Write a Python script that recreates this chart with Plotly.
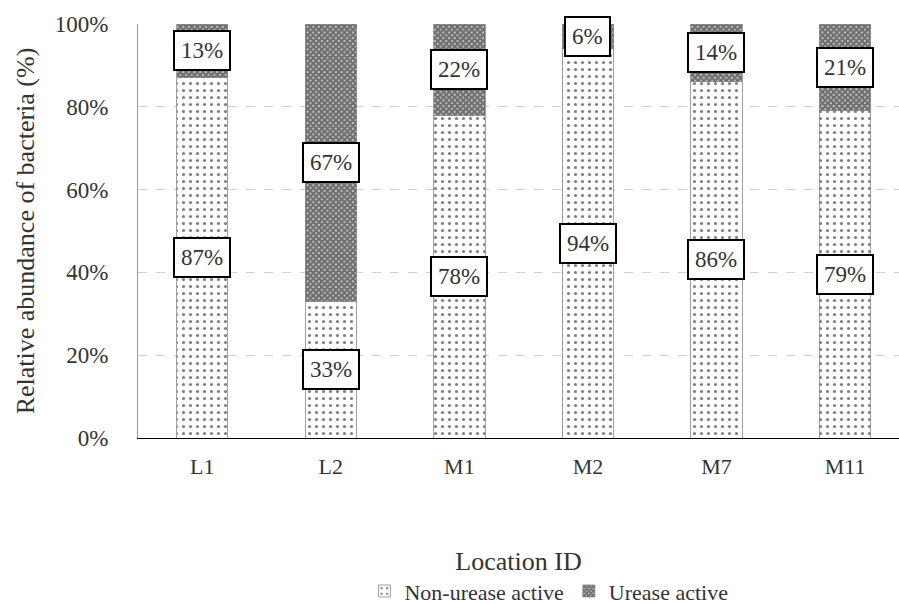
import plotly.graph_objects as go

locations = ["L1", "L2", "M1", "M2", "M7", "M11"]
non_urease = [87, 33, 78, 94, 86, 79]
urease = [13, 67, 22, 6, 14, 21]
y_ticks = [0, 20, 40, 60, 80, 100]
y_tick_labels = ["0%", "20%", "40%", "60%", "80%", "100%"]

FONT = "Liberation Serif"
TXT = "#333333"

fig = go.Figure()
fig.add_trace(go.Bar(
    x=locations, y=non_urease, name="Non-urease active",
    width=0.4,
    marker=dict(color="white", line=dict(color="#888888", width=0.8),
                pattern=dict(shape=".", fgcolor="black", bgcolor="white",
                             size=7, solidity=0.16)),
))
fig.add_trace(go.Bar(
    x=locations, y=urease, name="Urease active",
    width=0.4,
    marker=dict(color="white", line=dict(color="#888888", width=0.8),
                pattern=dict(shape="x", fgcolor="black", bgcolor="#e0e0e0",
                             size=4, solidity=0.85)),
))

# value boxes centred on each segment
annotations = []
for loc, a, b in zip(locations, non_urease, urease):
    for val, mid in ((a, a / 2), (b, a + b / 2)):
        annotations.append(dict(
            x=loc, y=mid, text=f"{val}%", showarrow=False,
            font=dict(family=FONT, size=23, color=TXT),
            bgcolor="white", bordercolor="black", borderwidth=2,
            borderpad=6, xref="x", yref="y",
        ))

fig.update_layout(
    barmode="stack",
    width=899, height=604,
    margin=dict(l=138, r=0, t=24, b=166, autoexpand=False),
    paper_bgcolor="white", plot_bgcolor="white",
    font=dict(family=FONT, size=23, color=TXT),
    annotations=annotations,
    showlegend=True,
    legend=dict(orientation="h", x=0.54, xanchor="center",
                y=-0.37, yanchor="middle",
                traceorder="normal",
                font=dict(family=FONT, size=22, color=TXT)),
    xaxis=dict(range=[-0.5, 5.42], showline=True, linecolor="black",
               linewidth=1.2, ticks="", tickfont=dict(size=22),
               ticklabelstandoff=8,
               title=dict(text="Location ID", font=dict(size=26), standoff=74)),
    yaxis=dict(range=[0, 100], tickvals=y_ticks, ticktext=y_tick_labels,
               showline=True, linecolor="#999999", linewidth=1,
               showgrid=True, gridcolor="#d0d0d0", griddash="dash", gridwidth=1,
               ticks="", tickfont=dict(size=23), ticklabelstandoff=24,
               title=dict(text="Relative abundance of bacteria (%)",
                          font=dict(size=26), standoff=12)),
)

fig.write_html("out.html")
